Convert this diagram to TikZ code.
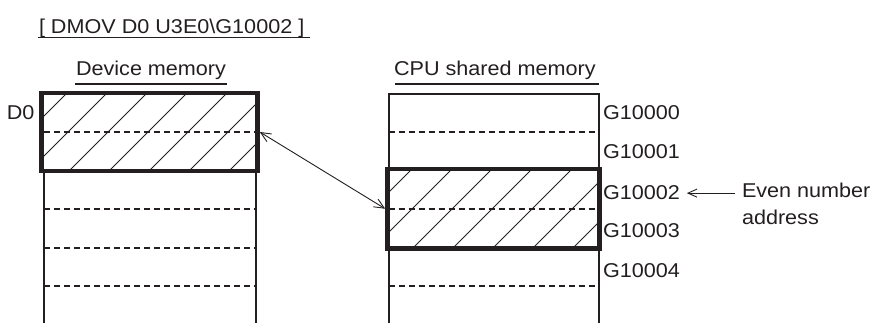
\documentclass[tikz,border=0pt]{standalone}
\usepackage{fontspec}
\setmainfont{Liberation Sans}[FakeStretch=1.08]
\usetikzlibrary{arrows.meta,calc}
\definecolor{ink}{RGB}{35,31,32}
\begin{document}
\begin{tikzpicture}[x=1pt,y=-1pt,
  txt/.style={font=\fontsize{20}{27}\selectfont, text=ink, inner sep=0pt, outer sep=0pt},
  thickbox/.style={draw=ink, line width=4.6pt, inner sep=0pt},
  border/.style={draw=ink, line width=2pt},
  rowsep/.style={draw=ink, line width=1.2pt, dash pattern=on 6pt off 4pt},
  hatchline/.style={draw=ink, line width=1pt},
  uline/.style={draw=ink, line width=1.4pt},
  link/.style={draw=ink, line width=0.9pt, {Straight Barb[length=10pt,width=9pt]}-{Straight Barb[length=10pt,width=9pt]}},
  pointer/.style={draw=ink, line width=0.9pt, -{Straight Barb[length=9pt,width=8pt]}}
]
\useasboundingbox (0,0) rectangle (873,323);

% title
\node[txt, anchor=base west] (title) at (39,33.5) {[ DMOV D0 U3E0\textbackslash G10002 ]};
\draw[uline] ($(title.base west)+(-1,4)$) -- ($(title.base east)+(6,4)$);

% ---------- Device memory ----------
\node[txt, anchor=base west] (devlabel) at (76,76) {Device memory};
\draw[uline] ($(devlabel.base west)+(-1,8)$) -- ($(devlabel.base east)+(1,8)$);

\draw[border] (44,171) -- (44,323);
\draw[border] (256,171) -- (256,323);
\foreach \yy in {209,248,286} \draw[rowsep] (44,\yy) -- (256,\yy);

\begin{scope}
  \clip (41.5,93) rectangle (257.5,171);
  \foreach \k in {0,...,6} \draw[hatchline] ({67+40*\k},93) -- ++(-78,78);
\end{scope}
\draw[rowsep] (44,132) -- (256,132);
\node[thickbox, minimum width=216pt, minimum height=78pt] (lbox) at (149.5,132) {};
\node[txt, anchor=base east] (d0) at (34.5,120) {D0};

% ---------- CPU shared memory ----------
\node[txt, anchor=base west] (cpulabel) at (394,76) {CPU shared memory};
\draw[uline] ($(cpulabel.base west)+(1,8)$) -- ($(cpulabel.base east)+(3,8)$);

\draw[border] (388.5,323) -- (388.5,94) -- (598.5,94) -- (598.5,323);
\foreach \yy in {132,286} \draw[rowsep] (388.5,\yy) -- (598.5,\yy);

\begin{scope}
  \clip (387.5,169) rectangle (599.5,248.5);
  \foreach \k in {0,...,6} \draw[hatchline] ({412+40*\k},169) -- ++(-79.5,79.5);
\end{scope}
\draw[rowsep] (388.5,209) -- (598.5,209);
\node[thickbox, minimum width=212pt, minimum height=79.5pt] (rbox) at (493.5,208.75) {};

\node[txt, anchor=base west] (g0) at (603,120) {G10000};
\node[txt, anchor=base west] (g1) at (603,159) {G10001};
\node[txt, anchor=base west] (g2) at (603,200) {G10002};
\node[txt, anchor=base west] (g3) at (603,238) {G10003};
\node[txt, anchor=base west] (g4) at (603,277) {G10004};

\node[txt, anchor=base west] (even1) at (742,198) {Even number};
\node[txt, anchor=base west] (even2) at (742,225) {address};

% connectors
\draw[link] (lbox.east) -- (rbox.west);
\draw[pointer] ($(g2.east -| even1.west)+(-7,0)$) -- ($(g2.east)+(7,0)$);
\end{tikzpicture}
\end{document}
